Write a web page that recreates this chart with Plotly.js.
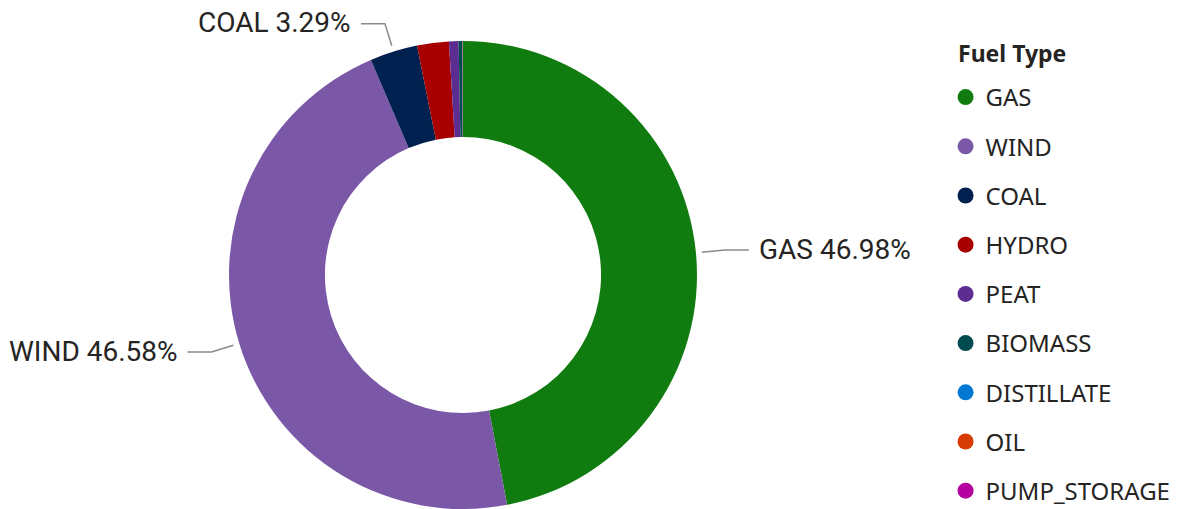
<!DOCTYPE html>
<html>
<head>
<meta charset="utf-8">
<script src="https://cdn.plot.ly/plotly-3.0.1.min.js"></script>
<style>html,body{margin:0;padding:0;background:#fff;}#chart{width:1179px;height:509px;}</style>
</head>
<body>
<div id="chart"></div>
<script>
// ---- data ----
const fuelTypes = ["GAS","WIND","COAL","HYDRO","PEAT","BIOMASS","DISTILLATE","OIL","PUMP_STORAGE"];
const shares    = [46.98, 46.58, 3.29, 2.19, 0.66, 0.25, 0.02, 0.02, 0.01];
const colors    = ["#107C10","#7B57A8","#002050","#A80000","#5C2D91","#004B50","#0078D4","#D83B01","#B4009E"];
const labelledTypes = ["GAS","WIND","COAL"];
const legendTitle = "Fuel Type";

// ---- layout constants ----
const W = 1179, H = 509, mT = 41, mB = 0;
const plotH = H - mT - mB;
const cxPx = 463;
const R = plotH / 2;
const dom = [(cxPx - R - 2) / W, (cxPx + R + 2) / W];

const traces = [{
  type: "pie",
  labels: fuelTypes,
  values: shares,
  marker: {colors: colors, line: {width: 0}},
  hole: 0.59,
  sort: false,
  direction: "clockwise",
  rotation: 0,
  textinfo: "none",
  showlegend: false,
  domain: {x: dom, y: [0, 1]},
  hoverinfo: "label+percent"
}];

// legend entries as circle markers
fuelTypes.forEach((f, i) => {
  traces.push({
    type: "scatter", mode: "markers", x: [null], y: [null],
    name: f, legendgroup: f,
    marker: {color: colors[i], size: 18, symbol: "circle"},
    hoverinfo: "skip"
  });
});

// labels with elbow leader lines computed from the data
const total = shares.reduce((a, b) => a + b, 0);
const toPX = px => px / W;
const toPY = py => (H - mB - py) / plotH;
const annotations = [];
const shapes = [];
let cum = 0;
fuelTypes.forEach((f, i) => {
  const frac = shares[i] / total;
  const mid = (cum + frac / 2) * 2 * Math.PI;
  cum += frac;
  if (!labelledTypes.includes(f)) return;
  const s = Math.sin(mid), c = Math.cos(mid);
  const x0 = cxPx + (R + 6) * s,  y0 = mT + R - (R + 6) * c;
  const x1 = cxPx + (R + 29) * s, y1 = mT + R - (R + 29) * c;
  const dir = s >= 0 ? 1 : -1;
  const x2 = x1 + dir * 24, y2 = y1;
  shapes.push({
    type: "path", xref: "paper", yref: "paper",
    path: `M ${toPX(x0)},${toPY(y0)} L ${toPX(x1)},${toPY(y1)} L ${toPX(x2)},${toPY(y2)}`,
    line: {color: "#8a8a8a", width: 1.5}
  });
  annotations.push({
    xref: "paper", yref: "paper",
    x: toPX(x2 + dir * 8), y: toPY(y2 - 1),
    text: f + " " + (frac * 100).toFixed(2) + "%",
    showarrow: false, xanchor: dir > 0 ? "left" : "right", yanchor: "middle",
    font: {family: "Roboto, 'DejaVu Sans Condensed', sans-serif", size: 28, color: "#252423"}
  });
});

// legend title
annotations.push({
  xref: "paper", yref: "paper",
  x: toPX(956), y: toPY(53),
  text: "<b>" + legendTitle + "</b>",
  showarrow: false, xanchor: "left", yanchor: "middle",
  font: {family: "'Noto Sans', sans-serif", size: 23, color: "#252423"}
});

const layout = {
  width: W, height: H,
  margin: {l: 0, r: 0, t: mT, b: mB, autoexpand: false},
  paper_bgcolor: "#ffffff", plot_bgcolor: "#ffffff",
  xaxis: {visible: false, domain: [0.99, 1]},
  yaxis: {visible: false},
  showlegend: true,
  legend: {
    x: 0.802, y: toPY(75), xanchor: "left", yanchor: "top",
    maxheight: 1,
    font: {family: "'Noto Sans', 'Open Sans', sans-serif", size: 24, color: "#252423"},
    tracegroupgap: 15,
    itemclick: false, itemdoubleclick: false,
    bgcolor: "rgba(0,0,0,0)"
  },
  shapes: shapes,
  annotations: annotations
};

Plotly.newPlot("chart", traces, layout, {staticPlot: true, displayModeBar: false});
</script>
</body>
</html>
